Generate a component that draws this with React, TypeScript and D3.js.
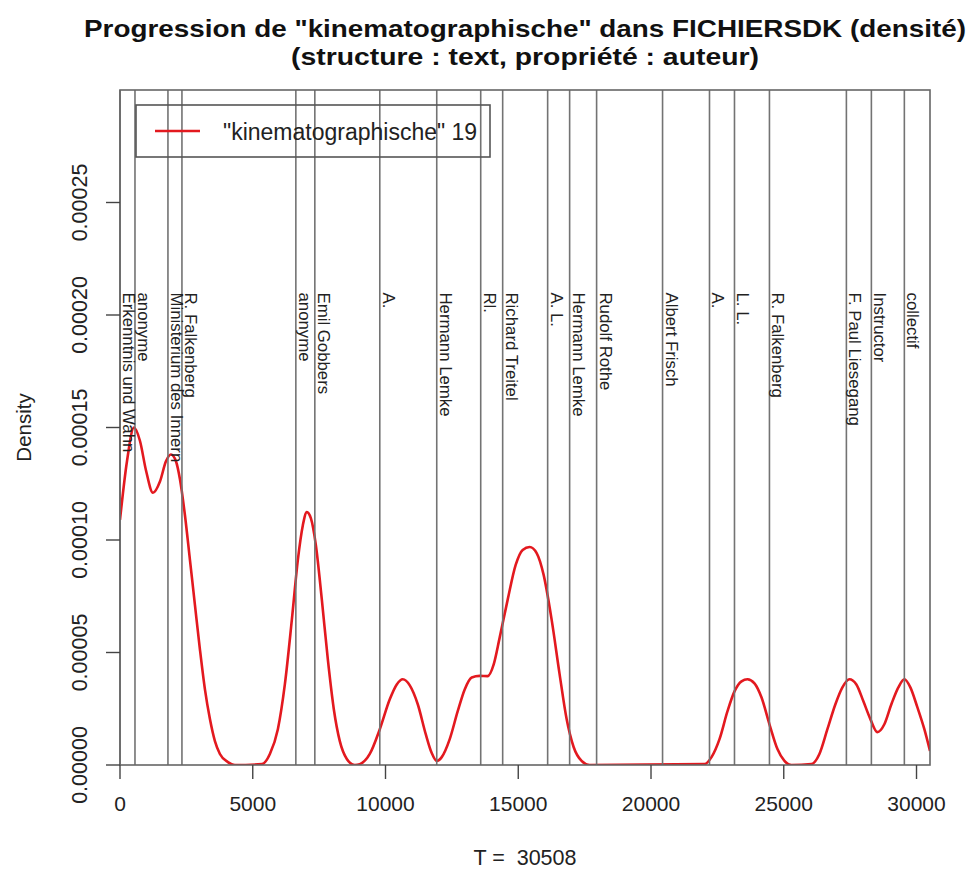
import React from 'react';
import * as d3 from 'd3';

const T_TOTAL = 30508;
const Y_MAX = 0.0003;

const curveT = [
  0, 263, 527, 753, 978, 1242, 1505, 1731, 1919, 2107, 2258, 2446, 2634, 2822, 3011, 3199, 3387, 3575, 3763, 4064, 4328,
  5344, 5645, 5946, 6209, 6473, 6699, 6887, 7037, 7188, 7376, 7602, 7828, 8053, 8279, 8543, 8844,
  9032, 9408, 9785, 10161, 10424, 10650, 10914, 11215, 11516, 11741, 11930, 12118, 12419, 12720, 12983, 13247, 13548,
  13849, 14075, 14300, 14602, 14903, 15166, 15430, 15693, 15956, 16257, 16558, 16822, 17085, 17386, 17688,
  22015, 22279, 22580, 22881, 23144, 23408, 23633, 23897, 24160, 24461, 24762, 25026, 25289,
  26042, 26343, 26644, 26945, 27209, 27472, 27735, 27999, 28262, 28525, 28789, 29053, 29316, 29542, 29768, 30031, 30295, 30508,
];
const curveD = [
  0.000109, 0.000135, 0.000150, 0.000144, 0.000131, 0.000121, 0.000126, 0.000135, 0.000138, 0.000135, 0.000127, 0.000111,
  0.0000912, 0.0000712, 0.0000513, 0.0000336, 0.0000204, 0.0000106, 0.0000049, 0.0000013, 0,
  0.0000004, 0.0000049, 0.0000159, 0.0000358, 0.0000646, 0.0000912, 0.0001066, 0.0001124, 0.0001097, 0.0000978, 0.0000735,
  0.0000469, 0.0000248, 0.0000106, 0.0000027, 0,
  0.0000004, 0.0000049, 0.0000159, 0.0000292, 0.0000358, 0.0000381, 0.0000354, 0.0000270, 0.0000137, 0.0000053, 0.0000018,
  0.0000035, 0.0000115, 0.0000239, 0.0000336, 0.0000389, 0.0000396, 0.0000395, 0.0000447, 0.0000566, 0.0000735, 0.0000889,
  0.0000956, 0.0000969, 0.0000942, 0.0000845, 0.0000646, 0.0000403, 0.0000204, 0.0000080, 0.0000018, 0,
  0.0000004, 0.0000035, 0.0000115, 0.0000239, 0.0000327, 0.0000372, 0.0000381, 0.0000363, 0.0000301, 0.0000181, 0.0000071,
  0.0000018, 0,
  0.0000004, 0.0000049, 0.0000159, 0.0000270, 0.0000345, 0.0000381, 0.0000358, 0.0000283, 0.0000204, 0.0000146, 0.0000181,
  0.0000270, 0.0000345, 0.0000381, 0.0000345, 0.0000257, 0.0000159, 0.0000062,
];

const authorT = [
  0, 564, 1806, 2333, 6623, 7338, 9785, 11930, 13586, 14413, 16107, 16935, 17951, 20435, 22203, 23144, 24461, 27359, 28300, 29542,
];
const authorNames = [
  'Erkenntnis und Wahn', 'anonyme', 'Ministerium des Innern', 'R. Falkenberg', 'anonyme', 'Emil Gobbers', 'A.',
  'Hermann Lemke', 'Rl.', 'Richard Treitel', 'A. L.', 'Hermann Lemke', 'Rudolf Rothe', 'Albert Frisch', 'A.', 'L. L.',
  'R. Falkenberg', 'F. Paul Liesegang', 'Instructor', 'collectif',
];
const LABEL_Y = 0.00021;

const xTicks = [0, 5000, 10000, 15000, 20000, 25000, 30000];
const xTickLabels = ['0', '5000', '10000', '15000', '20000', '25000', '30000'];
const yTicks = [0, 0.00005, 0.0001, 0.00015, 0.0002, 0.00025];
const yTickLabels = ['0.00000', '0.00005', '0.00010', '0.00015', '0.00020', '0.00025'];

const titleLines = [
  'Progression de "kinematographische" dans FICHIERSDK (densité)',
  '(structure : text, propriété : auteur)',
];
const legendLabel = '"kinematographische" 19';
const xLabel = 'T =  30508';
const yLabel = 'Density';

const FONT = '"Liberation Sans", Arial, Helvetica, sans-serif';
const RED = '#e3191f';
const GREY = '#737373';

export default function App() {
  const W = 976;
  const H = 870;
  const L = 120, R = 930, T = 90, B = 765;
  const x = d3.scaleLinear().domain([0, T_TOTAL]).range([L, R]);
  const y = d3.scaleLinear().domain([0, Y_MAX]).range([B, T]);
  const pts: [number, number][] = curveT.map((t, i) => [t, curveD[i]]);
  const line = d3
    .line<[number, number]>()
    .x((d) => x(d[0]))
    .y((d) => y(d[1]))
    .curve(d3.curveMonotoneX);
  const cx = (L + R) / 2;

  return (
    <svg
      width={W}
      height={H}
      viewBox={`0 0 ${W} ${H}`}
      style={{ position: 'absolute', left: 0, top: 0, background: '#fff', fontFamily: FONT }}
    >
      <rect x={0} y={0} width={W} height={H} fill="#fff" />
      {/* title */}
      <text
        x={cx}
        y={37}
        textAnchor="middle"
        fontWeight="bold"
        fontSize={24.5}
        fill="#111"
        textLength={882}
        lengthAdjust="spacingAndGlyphs"
      >
        {titleLines[0]}
      </text>
      <text
        x={cx}
        y={65}
        textAnchor="middle"
        fontWeight="bold"
        fontSize={24.5}
        fill="#111"
        textLength={468}
        lengthAdjust="spacingAndGlyphs"
      >
        {titleLines[1]}
      </text>

      <defs>
        <clipPath id="plotclip">
          <rect x={L} y={T} width={R - L} height={B - T} />
        </clipPath>
      </defs>

      {/* density curve */}
      <path d={line(pts) || ''} fill="none" stroke={RED} strokeWidth={2.6} clipPath="url(#plotclip)" />

      {/* author lines */}
      {authorT.map((t, i) => (
        <line key={'v' + i} x1={x(t)} x2={x(t)} y1={T} y2={B} stroke={GREY} strokeWidth={1.6} />
      ))}
      {/* author labels */}
      {authorT.map((t, i) => (
        <text
          key={'l' + i}
          transform={`translate(${x(t) + 3},${y(LABEL_Y)}) rotate(90)`}
          fontSize={16.8}
          fill="#222"
          textAnchor="start"
        >
          {authorNames[i]}
        </text>
      ))}

      {/* box */}
      <rect x={L} y={T} width={R - L} height={B - T} fill="none" stroke="#666" strokeWidth={1.6} />

      {/* x axis */}
      {xTicks.map((v, i) => (
        <g key={'xt' + i}>
          <line x1={x(v)} x2={x(v)} y1={B} y2={B + 14} stroke="#444" strokeWidth={1.4} />
          <text x={x(v)} y={811} textAnchor="middle" fontSize={21} fill="#222">
            {xTickLabels[i]}
          </text>
        </g>
      ))}
      {/* y axis */}
      {yTicks.map((v, i) => (
        <g key={'yt' + i}>
          <line x1={L - 14} x2={L} y1={y(v)} y2={y(v)} stroke="#444" strokeWidth={1.4} />
          <text
            transform={`translate(87,${y(v)}) rotate(-90)`}
            textAnchor="middle"
            fontSize={21.5}
            fill="#222"
          >
            {yTickLabels[i]}
          </text>
        </g>
      ))}
      <text x={cx} y={865} textAnchor="middle" fontSize={21.5} fill="#222" style={{ whiteSpace: 'pre' }}>
        {xLabel}
      </text>
      <text transform={`translate(31,${(T + B) / 2}) rotate(-90)`} textAnchor="middle" fontSize={20.5} fill="#222">
        {yLabel}
      </text>

      {/* legend */}
      <rect x={136} y={105} width={354} height={52} fill="none" stroke="#555" strokeWidth={1.6} />
      <line x1={155} x2={200} y1={131} y2={131} stroke={RED} strokeWidth={2.6} />
      <text x={223} y={140} fontSize={23} fill="#222">
        {legendLabel}
      </text>
    </svg>
  );
}
